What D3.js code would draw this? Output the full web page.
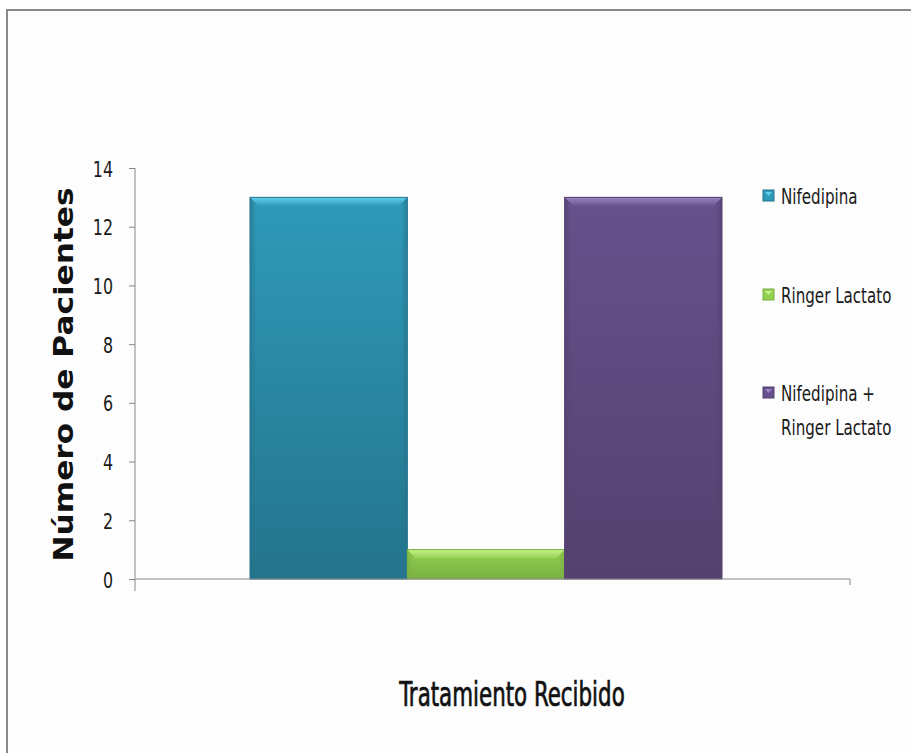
<!DOCTYPE html>
<html><head><meta charset="utf-8">
<script src="https://cdn.jsdelivr.net/npm/d3@7"></script>
<style>body{margin:0;background:#fff}svg{display:block}</style>
</head><body>
<script>
const categories = ["Nifedipina", "Ringer Lactato", "Nifedipina + Ringer Lactato"];
const values = [13, 1, 13];
const colors = ["#2f9ab9", "#92d050", "#67518c"];
const darks = ["#24748c", "#79b042", "#54416f"];
const lights = ["#5fd0ee", "#c4f38a", "#9b85c0"];
const yTicks = [0, 2, 4, 6, 8, 10, 12, 14];
const legendLines = [["Nifedipina"], ["Ringer Lactato"], ["Nifedipina +", "Ringer Lactato"]];

const W = 911, H = 753;
const FONT = "'DejaVu Sans Condensed','DejaVu Sans',sans-serif";
const svg = d3.select("body").append("svg").attr("width", W).attr("height", H);
const defs = svg.append("defs");
svg.append("rect").attr("x", 7).attr("y", 10).attr("width", W).attr("height", H)
  .attr("fill", "#fdfdfd").attr("stroke", "#8a8a8a").attr("stroke-width", 2);

// narrow text helper (compressed horizontally)
function ntext(parent, x, y, str, size, sx, anchor) {
  return parent.append("text")
    .attr("transform", `translate(${x},${y}) scale(${sx},1)`)
    .attr("text-anchor", anchor || "start")
    .attr("font-family", FONT).attr("font-size", size).attr("fill", "#1a1a1a").text(str);
}

const plotL = 135, plotR = 850, plotT = 168, plotB = 579;
const y = d3.scaleLinear().domain([0, 14]).range([plotB, plotT]);
const x = d3.scaleBand().domain(categories).range([250, 722]).padding(0);

categories.forEach((c, i) => {
  const g = defs.append("linearGradient").attr("id", "g" + i).attr("x1", 0).attr("y1", 0).attr("x2", 0).attr("y2", 1);
  g.append("stop").attr("offset", "0%").attr("stop-color", colors[i]);
  g.append("stop").attr("offset", "100%").attr("stop-color", darks[i]);
  const h = defs.append("linearGradient").attr("id", "h" + i).attr("x1", 0).attr("y1", 0).attr("x2", 1).attr("y2", 0);
  h.append("stop").attr("offset", "0%").attr("stop-color", darks[i]).attr("stop-opacity", 0.7);
  h.append("stop").attr("offset", "4%").attr("stop-color", darks[i]).attr("stop-opacity", 0);
  h.append("stop").attr("offset", "96%").attr("stop-color", darks[i]).attr("stop-opacity", 0);
  h.append("stop").attr("offset", "100%").attr("stop-color", darks[i]).attr("stop-opacity", 0.7);
  const t = defs.append("linearGradient").attr("id", "t" + i).attr("x1", 0).attr("y1", 0).attr("x2", 0).attr("y2", 1);
  t.append("stop").attr("offset", "0%").attr("stop-color", lights[i]);
  t.append("stop").attr("offset", "100%").attr("stop-color", colors[i]);
});

// y axis
const yAxis = d3.axisLeft(y).tickValues(yTicks).tickSize(6).tickFormat("");
const ga = svg.append("g").attr("transform", `translate(${plotL},0)`).call(yAxis);
ga.select(".domain").attr("stroke", "#888").attr("d", `M0,${plotT}V${plotB + 12}`);
ga.selectAll(".tick line").attr("stroke", "#888");
ga.selectAll(".tick").each(function(d) {
  ntext(d3.select(this), -22, 8, d, 21, 0.84, "end");
});

// bars
const bars = svg.append("g");
categories.forEach((c, i) => {
  const bx = x(c), bw = x.bandwidth(), by = y(values[i]), bh = y(0) - y(values[i]);
  bars.append("rect").attr("x", bx).attr("y", by).attr("width", bw).attr("height", bh).attr("fill", `url(#g${i})`);
  bars.append("rect").attr("x", bx).attr("y", by).attr("width", bw).attr("height", bh).attr("fill", `url(#h${i})`);
  const b = 9;
  bars.append("path").attr("d", `M${bx},${by}H${bx + bw}L${bx + bw - b},${by + b}H${bx + b}Z`).attr("fill", `url(#t${i})`);
  bars.append("rect").attr("x", bx).attr("y", by).attr("width", bw).attr("height", bh)
    .attr("fill", "none").attr("stroke", darks[i]).attr("stroke-width", 1);
});

// x axis line
svg.append("path").attr("d", `M${plotL},${plotB}H${plotR}V${plotB + 6}`).attr("stroke", "#888").attr("fill", "none");

// titles
svg.append("text").attr("transform", `translate(73,${(plotT + plotB) / 2 + 1}) rotate(-90) scale(1.2,1)`)
  .attr("text-anchor", "middle").attr("font-family", "'DejaVu Sans',sans-serif")
  .attr("font-weight", "bold").attr("font-size", 26).attr("fill", "#111").text("Número de Pacientes");
ntext(svg, 512, 706, "Tratamiento Recibido", 33, 0.72, "middle")
  .attr("fill", "#111").attr("stroke", "#111").attr("stroke-width", 0.7);

// legend
const legY = [196, 295, 393];
legendLines.forEach((lines, i) => {
  const g = svg.append("g").attr("transform", `translate(763,${legY[i]})`);
  g.append("rect").attr("x", 0).attr("y", -6).attr("width", 11).attr("height", 11).attr("fill", colors[i]).attr("stroke", darks[i]);
  g.append("path").attr("d", "M2,-4H9L5.5,0Z").attr("fill", lights[i]);
  lines.forEach((l, j) => {
    ntext(g, 18, 8 + j * 34, l, 21, 0.8);
  });
});
</script>
</body></html>
